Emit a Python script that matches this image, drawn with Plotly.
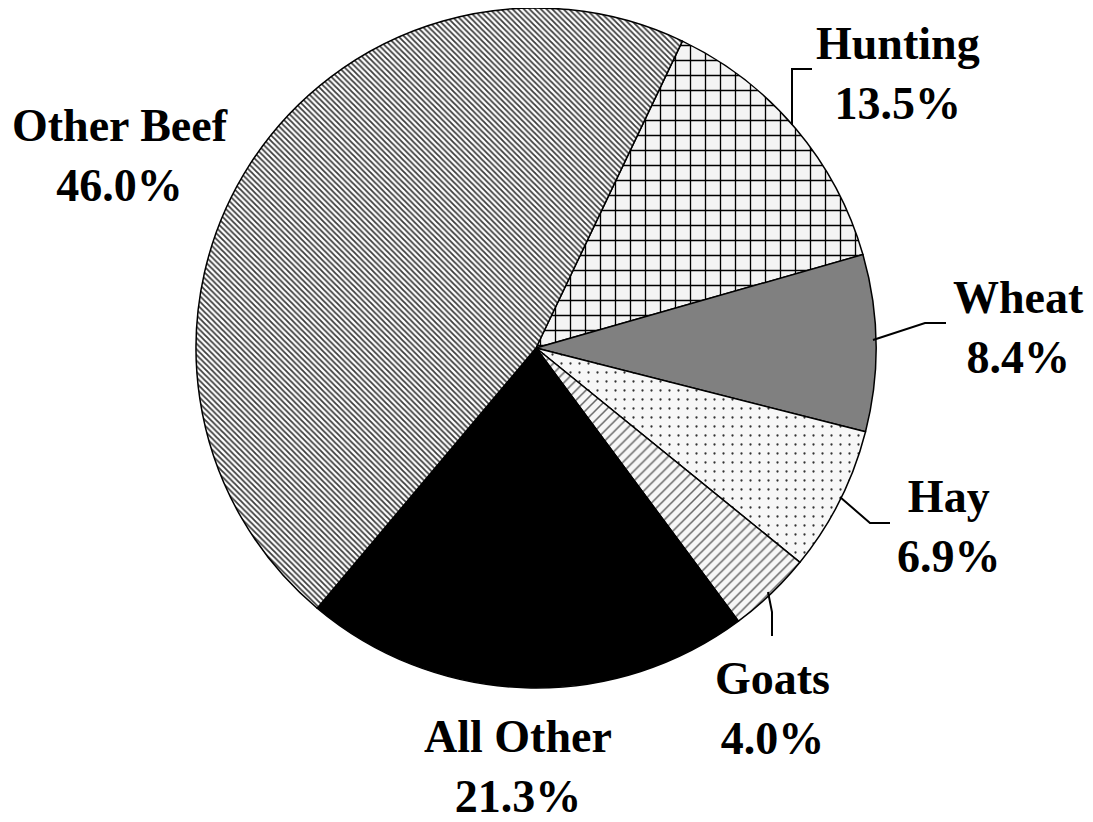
import plotly.graph_objects as go

labels = ["Hunting", "Wheat", "Hay", "Goats", "All Other", "Other Beef"]
values = [13.5, 8.4, 6.9, 4.0, 21.3, 46.0]
pct_text = ["13.5%", "8.4%", "6.9%", "4.0%", "21.3%", "46.0%"]

OFF = 8  # default page body margin
W, H = 1093 - OFF, 822 - OFF
colors = ["#f4f4f4", "#808080", "#f7f7f7", "#f7f7f7", "#000000", "#ffffff"]
p_shapes = ["+", "", ".", "/", "", "\\"]
p_fg = ["#000000", "#808080", "#333333", "#666666", "#000000", "#3c3c3c"]
p_size = [15, 8, 9, 7, 8, 4]
p_solid = [0.17, 0.3, 0.05, 0.22, 0.3, 0.45]

def px(x):
    return (x - OFF) / W

def py(y):
    return 1 - (y - OFF) / H

fig = go.Figure(go.Pie(
    labels=labels, values=values, sort=False, direction="clockwise",
    rotation=25.5, textinfo="none", hoverinfo="label+percent",
    marker=dict(colors=colors, line=dict(color="black", width=1.5),
                pattern=dict(shape=p_shapes, fgcolor=p_fg, bgcolor=colors,
                             size=p_size, solidity=p_solid)),
    domain=dict(x=[px(196), px(876)], y=[py(688), py(8)]),
    showlegend=False,
))

label_pos = {
    "Hunting": (898, 73),
    "Wheat": (1018, 327),
    "Hay": (949, 526),
    "Goats": (773, 708),
    "All Other": (518, 766),
    "Other Beef": (120, 155),
}
for lab, pt in zip(labels, pct_text):
    x, y = label_pos[lab]
    fig.add_annotation(x=px(x), y=py(y), xref="paper", yref="paper",
                       text=f"<b>{lab}<br>{pt}</b>", showarrow=False,
                       font=dict(family="Liberation Serif", size=46, color="black"),
                       align="center", xanchor="center", yanchor="middle")

leaders = [
    [(792, 125), (792, 69), (812, 69)],
    [(873, 340), (925, 323), (946, 323)],
    [(840, 497), (870, 523), (890, 523)],
    [(768, 592), (772, 612), (772, 636)],
]
for pts in leaders:
    path = "M " + " L ".join(f"{px(a)},{py(b)}" for a, b in pts)
    fig.add_shape(type="path", path=path, xref="paper", yref="paper",
                  line=dict(color="black", width=2))

fig.update_layout(width=W, height=H, margin=dict(l=0, r=0, t=0, b=0),
                  paper_bgcolor="white", plot_bgcolor="white")
fig.write_html("out.html")
